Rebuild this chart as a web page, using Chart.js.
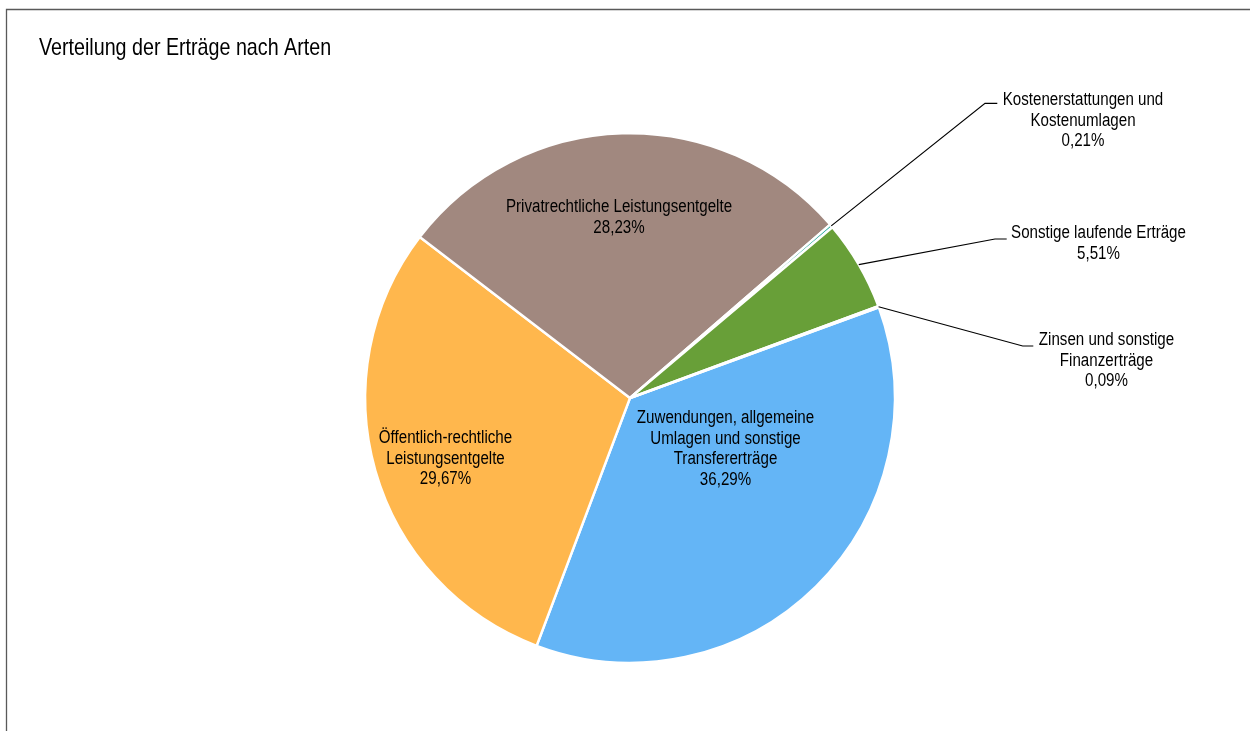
<!DOCTYPE html>
<html lang="de">
<head>
<meta charset="utf-8">
<title>Verteilung der Erträge nach Arten</title>
<script src="https://cdn.jsdelivr.net/npm/chart.js@4.4.1/dist/chart.umd.min.js"></script>
<style>
  html, body { margin: 0; padding: 0; background: #fff; }
  #wrap { position: relative; width: 1250px; height: 731px; }
</style>
</head>
<body>
<div id="wrap"><canvas id="ertraege" width="1250" height="731"></canvas></div>
<script>
// Daten
const categories = [
  'Zuwendungen, allgemeine Umlagen und sonstige Transfererträge',
  'Öffentlich-rechtliche Leistungsentgelte',
  'Privatrechtliche Leistungsentgelte',
  'Kostenerstattungen und Kostenumlagen',
  'Sonstige laufende Erträge',
  'Zinsen und sonstige Finanzerträge'
];
const shares = [36.29, 29.67, 28.23, 0.21, 5.51, 0.09];
const labelLines = [
  ['Zuwendungen, allgemeine', 'Umlagen und sonstige', 'Transfererträge'],
  ['Öffentlich-rechtliche', 'Leistungsentgelte'],
  ['Privatrechtliche Leistungsentgelte'],
  ['Kostenerstattungen und', 'Kostenumlagen'],
  ['Sonstige laufende Erträge'],
  ['Zinsen und sonstige', 'Finanzerträge']
];
const chartTitle = 'Verteilung der Erträge nach Arten';

// Farben
const sliceColors = ['#64b5f6', '#ffb74d', '#a1887f', '#26a69a', '#689f38', '#7986cb'];

// Lage der Beschriftungen, relativ zum Kreismittelpunkt (px)
const labelLayout = [
  { x: 95.5, y: 20 },
  { x: -184.5, y: 40 },
  { x: -11, y: -190.5 },
  { x: 453, y: -298, elbow: [355, -294.7], end: 367.3 },
  { x: 468.5, y: -165, elbow: [365, -159], end: 376.7 },
  { x: 476.5, y: -58, elbow: [392.7, -52], end: 403.3 }
];

const FONT = '"Liberation Sans", Arial, sans-serif';
const LINE_H = 20.6;

// schmale Schrift nachbilden (horizontal gestaucht)
const narrowText = (ctx, text, x, y, size, align, squeeze) => {
  ctx.save();
  ctx.font = size + 'px ' + FONT;
  ctx.textAlign = align;
  ctx.textBaseline = 'middle';
  ctx.fillStyle = '#000';
  ctx.translate(x, y);
  ctx.scale(squeeze, 1);
  ctx.fillText(text, 0, 0);
  ctx.restore();
};

const fmtPct = v => v.toFixed(2).replace('.', ',') + '%';

// Rahmen, Titel und Datenbeschriftungen
const labelPlugin = {
  id: 'labelPlugin',
  beforeDraw(chart) {
    const ctx = chart.ctx;
    ctx.save();
    ctx.fillStyle = '#fff';
    ctx.fillRect(0, 0, chart.width, chart.height);
    ctx.strokeStyle = '#595959';
    ctx.lineWidth = 1.3;
    ctx.beginPath();
    ctx.moveTo(6.5, chart.height);
    ctx.lineTo(6.5, 9.5);
    ctx.lineTo(chart.width, 9.5);
    ctx.stroke();
    ctx.restore();
    narrowText(ctx, chartTitle, 39, 48, 24, 'left', 0.82);
  },
  afterDatasetsDraw(chart) {
    const ctx = chart.ctx;
    const arcs = chart.getDatasetMeta(0).data;
    arcs.forEach((arc, i) => {
      const lay = labelLayout[i];
      const cx = arc.x, cy = arc.y;
      const lines = labelLines[i].concat([fmtPct(shares[i])]);
      if (lay.elbow) {
        const mid = (arc.startAngle + arc.endAngle) / 2;
        const r = arc.outerRadius;
        ctx.save();
        ctx.strokeStyle = '#000';
        ctx.lineWidth = 1.2;
        ctx.beginPath();
        ctx.moveTo(cx + Math.cos(mid) * r, cy + Math.sin(mid) * r);
        ctx.lineTo(cx + lay.elbow[0], cy + lay.elbow[1]);
        ctx.lineTo(cx + lay.end, cy + lay.elbow[1]);
        ctx.stroke();
        ctx.restore();
      }
      lines.forEach((t, k) => {
        narrowText(ctx, t, cx + lay.x, cy + lay.y + k * LINE_H, 18, 'center', 0.84);
      });
    });
  }
};

const ctx = document.getElementById('ertraege').getContext('2d');
new Chart(ctx, {
  type: 'pie',
  data: {
    labels: categories,
    datasets: [{
      data: shares,
      backgroundColor: sliceColors,
      borderColor: '#ffffff',
      borderWidth: 2.4
    }]
  },
  options: {
    responsive: false,
    animation: false,
    rotation: 70,
    layout: { padding: { left: 100, right: 90, top: 132, bottom: 67 } },
    plugins: {
      legend: { display: false },
      tooltip: { enabled: false },
      title: { display: false }
    }
  },
  plugins: [labelPlugin]
});
</script>
</body>
</html>
